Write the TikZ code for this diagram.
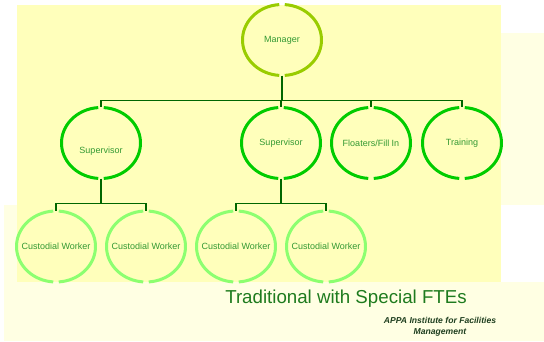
\documentclass[tikz,border=0pt]{standalone}
\usepackage{fontspec}
\setmainfont{Liberation Sans}
\usetikzlibrary{shapes.geometric}

\definecolor{padyellow}{HTML}{FFFFBB}
\definecolor{paleyellow}{HTML}{FFFFE3}
\definecolor{mgrring}{HTML}{99CC00}
\definecolor{supring}{HTML}{00CC00}
\definecolor{cwring}{HTML}{8CFF70}
\definecolor{linkgreen}{HTML}{006600}
\definecolor{nodetext}{HTML}{339933}
\definecolor{titlegreen}{HTML}{1E7B1E}
\definecolor{footdark}{HTML}{1F3F1F}

\tikzset{
  unit/.style={ellipse, minimum width=79pt, minimum height=71pt, inner sep=0pt,
    text=nodetext, font=\fontsize{9}{10}\selectfont},
  link/.style={draw=linkgreen, line width=1.6pt},
  ring/.style={line width=3pt},
}

\begin{document}
\begin{tikzpicture}[x=1pt, y=1pt]
    % Background panels
    \useasboundingbox (0,0) rectangle (544,341);
    \fill[white] (0,0) rectangle (544,341);
    \fill[paleyellow] (501,308) rectangle (544,136);
    \fill[paleyellow] (4,136) rectangle (35,0);
    \fill[paleyellow] (35,59) rectangle (544,0);
    \fill[padyellow] (17,336) rectangle (501,59);

    % Manager
    \node[unit] (mgr) at (282,301) {Manager};

    % Second row
    \node[unit] (sup1) at (101,198) {\raisebox{-10pt}[0pt][0pt]{Supervisor}};
    \node[unit] (sup2) at (281,198) {Supervisor};
    \node[unit] (flt) at (371,198) {Floaters/Fill In};
    \node[unit] (trn) at (462,198) {Training};

    % Custodial workers
    \node[unit] (cw1) at (56,94.5) {Custodial Worker};
    \node[unit] (cw2) at (146,94.5) {Custodial Worker};
    \node[unit] (cw3) at (236,94.5) {Custodial Worker};
    \node[unit] (cw4) at (326,94.5) {Custodial Worker};

    % Rings with small gaps top and bottom
    \foreach \n/\c in {mgr/mgrring, sup1/supring, sup2/supring, flt/supring, trn/supring,
                       cw1/cwring, cw2/cwring, cw3/cwring, cw4/cwring}{
      \draw[ring, \c] ([shift={(86:39.5 and 35.5)}]\n.center)
        arc[start angle=86, end angle=-86, x radius=39.5, y radius=35.5];
      \draw[ring, \c] ([shift={(94:39.5 and 35.5)}]\n.center)
        arc[start angle=94, end angle=266, x radius=39.5, y radius=35.5];
    }

    % Connectors
    \draw[link] (mgr.south) -- ++(0,-24.7) coordinate (topbus);
    \foreach \n in {sup1,sup2,flt,trn}
      \draw[link] (topbus) -| (\n.north);

    \draw[link] (sup1.south) -- ++(0,-24.8) coordinate (subbusA);
    \foreach \n in {cw1,cw2}
      \draw[link] (subbusA) -| (\n.north);

    \draw[link] (sup2.south) -- ++(0,-24.8) coordinate (subbusB);
    \foreach \n in {cw3,cw4}
      \draw[link] (subbusB) -| (\n.north);

    % Title and footer
    \node[anchor=base, text=titlegreen, font=\fontsize{18.7}{20}\selectfont] (title) at (346,38)
      {Traditional with Special FTEs};
    \node[align=center, text=footdark, font=\fontsize{8.6}{11}\selectfont\bfseries\itshape] (foot) at (440,14)
      {APPA Institute for Facilities\\Management};
\end{tikzpicture}
\end{document}
